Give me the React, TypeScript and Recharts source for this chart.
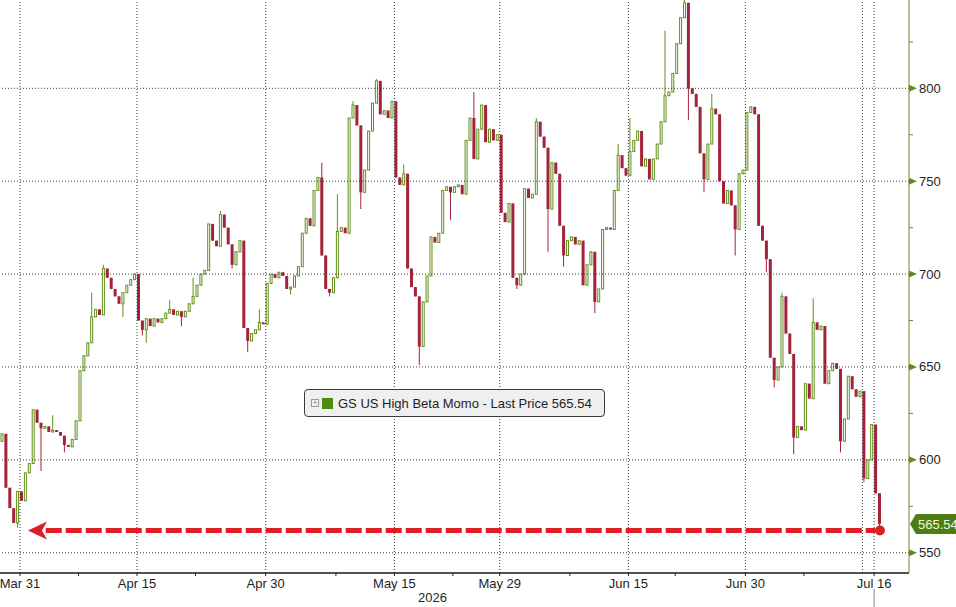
import {Bar, ComposedChart, ReferenceDot, ReferenceLine, XAxis, YAxis} from 'recharts'

// GS US High Beta Momo, intraday bars (3 per trading day), Mar 27 – Jul 16 2026
// x is the trading-day index, day 0 = Mar 31
const firstOpen = 610
const closes: number[] = [
    614, 585,           // Mar 27 (tail)
    574, 566, 583,      // Mar 30
    578, 593, 598,      // Mar 31
    627, 620, 617,      // Apr 1
    618, 615, 616,      // Apr 2
    615, 613, 608,      // Apr 6
    607, 611, 621,      // Apr 7
    648, 656, 663,      // Apr 8
    677, 681, 678,      // Apr 9
    703, 698, 692,      // Apr 10
    688, 684, 690,      // Apr 13
    694, 697, 700,      // Apr 14
    675, 670, 676,      // Apr 15
    672, 676, 674,      // Apr 16
    676, 679, 681,      // Apr 17
    678, 680, 677,      // Apr 20
    680, 684, 688,      // Apr 21
    694, 700, 702,      // Apr 22
    727, 718, 715,      // Apr 23
    732, 725, 716,      // Apr 24
    705, 712, 718,      // Apr 27
    671, 664, 668,      // Apr 28
    670, 674, 673,      // Apr 29
    695, 700, 698,      // Apr 30
    701, 699, 692,      // May 1
    693, 699, 704,      // May 4
    722, 730, 726,      // May 5
    745, 752, 710,      // May 6
    692, 690, 698,      // May 7
    723, 725, 722,      // May 8
    784, 791, 780,      // May 11
    744, 756, 777,      // May 12
    792, 804, 786,      // May 13
    788, 784, 793,      // May 14
    752, 748, 754,      // May 15
    703, 693, 688,      // May 18
    661, 685, 699,      // May 19
    720, 717, 722,      // May 20
    745, 747, 744,      // May 21
    747, 748, 743,      // May 22
    772, 784, 762,      // May 26
    778, 791, 771,      // May 27
    778, 772, 775,      // May 28
    733, 728, 738,      // May 29
    698, 694, 700,      // Jun 1
    746, 741, 743,      // Jun 2
    782, 774, 768,      // Jun 3
    735, 760, 754,      // Jun 4
    726, 710, 718,      // Jun 5
    720, 716, 718,      // Jun 8
    694, 705, 712,      // Jun 9
    685, 692, 724,      // Jun 10
    725, 724, 745,      // Jun 11
    764, 757, 753,      // Jun 12
    766, 772, 777,      // Jun 15
    758, 762, 751,      // Jun 16
    762, 770, 782,      // Jun 17
    796, 798, 808,      // Jun 18
    824, 838, 846,      // Jun 22
    800, 797, 790,      // Jun 23
    765, 751, 770,      // Jun 24
    789, 786, 750,      // Jun 25
    738, 745, 737,      // Jun 26
    724, 754, 756,      // Jun 29
    787, 790, 786,      // Jun 30
    726, 718, 708,      // Jul 1
    655, 643, 650,      // Jul 2
    688, 668, 657,      // Jul 6
    612, 618, 616,      // Jul 7
    641, 633, 674,      // Jul 8
    670, 672, 641,      // Jul 9
    648, 652, 649,      // Jul 10
    610, 622, 645,      // Jul 13
    638, 634, 637,      // Jul 14
    590, 600, 619,      // Jul 15
    582, 565.54,        // Jul 16
]
// long wicks, by bar index
const highWicks: Record<number, number> = {
    13: 624, 23: 690, 26: 705, 43: 686, 49: 698, 56: 734, 66: 681, 82: 760, 86: 743, 90: 793,
    96: 805, 103: 759, 121: 798, 137: 784, 158: 770, 161: 784, 170: 831, 175: 848, 182: 797,
    200: 690, 208: 687,
}
const lowWicks: Record<number, number> = {
    4: 563.5, 10: 594, 16: 604, 31: 677, 36: 667, 37: 663, 46: 672, 59: 703, 63: 658, 74: 689,
    84: 688, 92: 735, 107: 651, 115: 729, 132: 692, 140: 712, 144: 704, 152: 679, 176: 783,
    180: 744, 188: 710, 196: 701, 198: 639, 203: 603, 215: 604, 221: 588, 225: 562,
}

const dayTicks = [0, 10, 21, 32, 41, 52, 62, 73]
const dayLabels = ['Mar 31', 'Apr 15', 'Apr 30', 'May 15', 'May 29', 'Jun 15', 'Jun 30', 'Jul 16']
const weekTicks = [5, 15, 27, 37, 47, 56, 67]
const priceTicks = [550, 600, 650, 700, 750, 800, 850]
const halfTicks = [575, 625, 675, 725, 775, 825]
const lastPrice = 565.54
const arrowLevel = 562

const UP = '#62901a'
const DOWN = '#a3243a'
const AXIS_GREEN = '#6e8a2a'
const RED = '#dc1f26'
const FONT = '"Liberation Sans", Arial, sans-serif'

const bars = closes.map((c, i) => {
    const o = i === 0 ? firstOpen : closes[i - 1]
    const h = Math.max(o, c, highWicks[i] ?? -Infinity)
    const l = Math.min(o, c, lowWicks[i] ?? Infinity)
    return {t: -2 + (i + 1.5) / 3, o, c, h, l, range: [l, h]}
})

const Candle = (props: any) => {
    let {x, y, width, height} = props
    const {o, c, h, l} = props.payload
    if (height < 0) {
        y += height
        height = -height
    }
    const span = h - l || 1
    const py = (v: number) => y + ((h - v) / span) * height
    const up = c >= o
    const color = up ? UP : DOWN
    const cx = x + width / 2
    const top = py(Math.max(o, c))
    const bh = Math.max(py(Math.min(o, c)) - top, 1)
    return (
        <g>
            <line x1={cx} x2={cx} y1={y} y2={y + Math.max(height, 1)} stroke={color} strokeWidth={1}/>
            {up
                ? <rect x={x + 0.5} y={top} width={width - 1} height={bh} fill="#fff" stroke={color} strokeWidth={1}/>
                : <rect x={x} y={top} width={width} height={bh} fill={color}/>}
        </g>
    )
}

const XTick = (props: any) => {
    const {x, y, payload} = props
    const idx = dayTicks.indexOf(payload.value)
    return (
        <g>
            <line x1={x} x2={x} y1={y} y2={y + 3} stroke="#222"/>
            {idx >= 0 && (
                <text x={x} y={y + 15} textAnchor="middle" fontSize={13} fontFamily={FONT} fill="#1e1e1e">
                    {dayLabels[idx]}
                </text>
            )}
            {idx === dayTicks.length - 1 && <line x1={x} x2={x} y1={y + 16} y2={y + 40} stroke="#888"/>}
        </g>
    )
}

const YTick = (props: any) => {
    const {x, y, payload} = props
    const v = payload.value
    if (v === lastPrice) {
        return (
            <g>
                <polygon points={`${x + 1},${y} ${x + 7},${y - 10} ${x + 60},${y - 10} ${x + 60},${y + 10} ${x + 7},${y + 10}`}
                         fill="#4f7c14"/>
                <text x={x + 9} y={y + 5} fontSize={13} fontFamily={FONT} fill="#eef7dc">{v.toFixed(2)}</text>
            </g>
        )
    }
    if (halfTicks.includes(v)) {
        return <line x1={x} x2={x + 4} y1={y} y2={y} stroke={AXIS_GREEN}/>
    }
    return (
        <g>
            <polygon points={`${x},${y - 3.5} ${x + 8},${y} ${x},${y + 3.5}`} fill="#5f8c1e"/>
            <text x={x + 10} y={y + 4.5} fontSize={13} fontFamily={FONT} fill="#1e1e1e">{v}</text>
        </g>
    )
}

const ArrowHead = (props: any) => {
    const {cx, cy} = props
    return <polygon points={`${cx},${cy} ${cx + 19},${cy - 9} ${cx + 14},${cy} ${cx + 19},${cy + 9}`} fill={RED}/>
}

export default function App() {
    const grid = {stroke: '#3c3c3c', strokeDasharray: '1 2', strokeWidth: 1}
    return (
        <div style={{position: 'relative', width: 956, height: 607, overflow: 'hidden', background: '#fff', fontFamily: FONT}}>
            <style>{'body{margin:0}'}</style>
            <div style={{position: 'absolute', left: 0, top: -20}}>
                <ComposedChart width={956} height={627} data={bars} margin={{top: 0, right: 0, bottom: 0, left: 0}}>
                    <XAxis dataKey="t" type="number" domain={[-1.709, 75.983]} allowDataOverflow
                           ticks={[...dayTicks, ...weekTicks]} interval={0} height={34}
                           tickSize={0} tickMargin={0} tickLine={false}
                           axisLine={{stroke: '#1a1a1a', strokeWidth: 1.5}} tick={<XTick/>}/>
                    <YAxis orientation="right" width={47} domain={[539.1, 858.3]} allowDataOverflow
                           ticks={[...priceTicks, ...halfTicks, lastPrice]} interval={0}
                           tickSize={0} tickMargin={0} tickLine={false}
                           axisLine={{stroke: AXIS_GREEN}} tick={<YTick/>}/>

                    {priceTicks.map(v => <ReferenceLine key={'h' + v} y={v} {...grid}/>)}
                    {dayTicks.map(d => <ReferenceLine key={'v' + d} x={d} {...grid}/>)}
                    <ReferenceLine x={72} {...grid}/>

                    <Bar dataKey="range" barSize={3} shape={<Candle/>} isAnimationActive={false}/>

                    <ReferenceLine segment={[{x: 2.2, y: arrowLevel}, {x: 73.1, y: arrowLevel}]}
                                   stroke={RED} strokeWidth={5} strokeDasharray="16 4"/>
                    <ReferenceDot x={0.68} y={arrowLevel} shape={<ArrowHead/>}/>
                    <ReferenceDot x={73.5} y={arrowLevel} r={5} fill={RED} stroke="none"/>
                </ComposedChart>
            </div>

            <div style={{
                position: 'absolute', left: 304, top: 389, width: 299, height: 26, border: '1px solid #3a3a3a',
                borderRadius: 4, background: '#efefef', display: 'flex', alignItems: 'center', fontSize: 13, color: '#1e1e1e',
            }}>
                <span style={{
                    width: 6, height: 6, border: '1px solid #999', marginLeft: 6, fontSize: 7, lineHeight: '6px',
                    textAlign: 'center', color: '#777',
                }}>+</span>
                <span style={{width: 11, height: 11, background: '#4f8a10', marginLeft: 3}}/>
                <span style={{marginLeft: 5}}>GS US High Beta Momo - Last Price 565.54</span>
            </div>
            <div style={{position: 'absolute', left: 418, top: 590, fontSize: 13, color: '#1e1e1e'}}>2026</div>
        </div>
    )
}
